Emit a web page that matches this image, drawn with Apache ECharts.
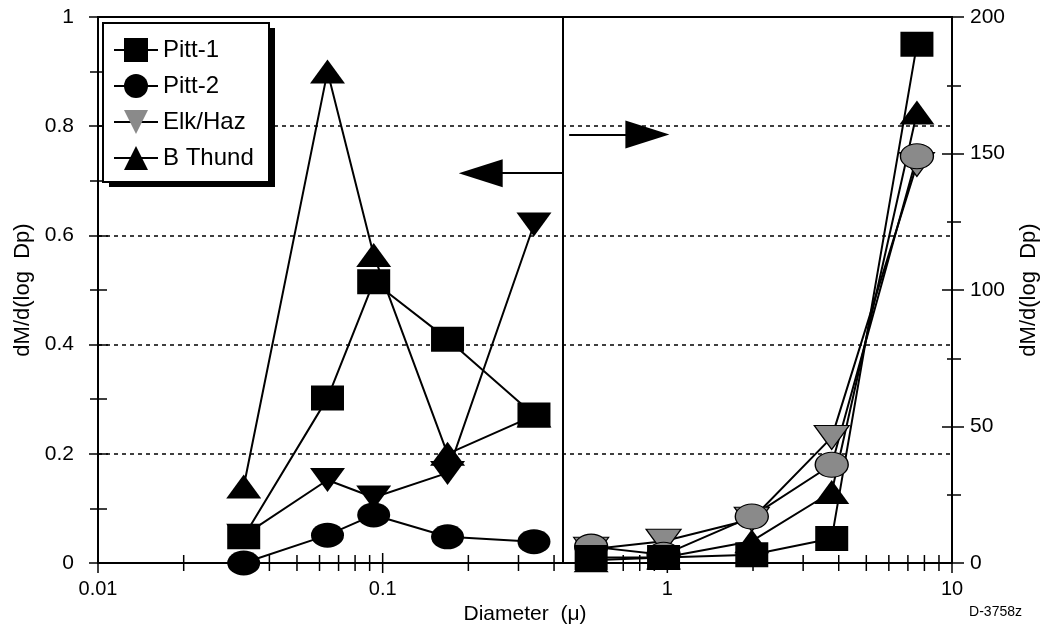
<!DOCTYPE html>
<html><head><meta charset="utf-8">
<script src="https://cdn.jsdelivr.net/npm/echarts@6/dist/echarts.min.js"></script>
<style>html,body{margin:0;padding:0;background:#fff}#c{width:1049px;height:632px}</style>
</head><body><div id="c"></div>
<script>
// ---- data ----
const seriesNames = ['Pitt-1', 'Pitt-2', 'Elk/Haz', 'B Thund'];
const fineDiam   = [0.0325, 0.064, 0.093, 0.169, 0.34];   // left panel (left axis)
const coarseDiam = [0.54, 0.97, 1.98, 3.78, 7.53];        // right panel (right axis)

const pitt1Fine = [0.048, 0.302, 0.515, 0.41, 0.271];
const pitt2Fine = [0.0, 0.051, 0.088, 0.048, 0.039];
const elkFine   = [0.05, 0.152, 0.12, 0.165, 0.62];
const bthFine   = [0.14, 0.90, 0.564, 0.20, 0.27];

const pitt1Coarse = [2, 2, 3, 9, 190];
const pitt2Coarse = [6, 3, 17, 36, 149];
const elkCoarse   = [5, 8, 16, 46, 146];
const bthCoarse   = [1, 2, 8, 26, 165];

const leftTicks  = [0, 0.2, 0.4, 0.6, 0.8, 1];
const rightTicks = [0, 50, 100, 150, 200];
const xMajorTicks = [0.01, 0.1, 1, 10];
const xMinorTicks = [0.02,0.03,0.04,0.05,0.06,0.07,0.08,0.09,
                     0.2,0.3,0.4,0.5,0.6,0.7,0.8,0.9,
                     2,3,4,5,6,7,8,9];
const separatorX = 0.43;
const leftArrowFrom = [0.43, 0.714], leftArrowTo = [0.221, 0.714];
const rightArrowFrom = [0.452, 157], rightArrowTo = [0.851, 157];

// ---- chart ----
const FONT = '"Liberation Sans", Arial, Helvetica, sans-serif';
const BLACK = '#000', GRAY = '#8a8a8a';
const chart = echarts.init(document.getElementById('c'), null, {renderer: 'canvas'});

const zip = (xs, ys) => xs.map((x, i) => [x, ys[i]]);
const SYM = {
  'Pitt-1': {symbol: 'rect', size: [33, 25], rot: 0},
  'Pitt-2': {symbol: 'circle', size: [33, 25], rot: 0},
  'Elk/Haz': {symbol: 'triangle', size: [35, 24], rot: 180},
  'B Thund': {symbol: 'triangle', size: [35, 24], rot: 0}
};
function lineSeries(name, xs, ys, yIdx, fill, extra) {
  const s = SYM[name];
  return Object.assign({
    name, type: 'line', xAxisIndex: 0, yAxisIndex: yIdx,
    data: zip(xs, ys),
    symbol: s.symbol, symbolSize: s.size, symbolRotate: s.rot,
    showAllSymbol: true, silent: true,
    lineStyle: {color: BLACK, width: 2},
    itemStyle: {color: fill, borderColor: BLACK, borderWidth: fill === BLACK ? 0 : 1.2, opacity: 1},
    emphasis: {disabled: true}
  }, extra || {});
}
function tickSeries(values, half) {
  return {
    type: 'custom', xAxisIndex: 0, yAxisIndex: 0, silent: true, clip: false, z: 5,
    data: values.map(v => [v, 0]),
    renderItem: (params, api) => {
      const p = api.coord([api.value(0), api.value(1)]);
      return {type: 'line', shape: {x1: p[0], y1: p[1] - half, x2: p[0], y2: p[1] + half},
              style: {stroke: BLACK, lineWidth: 1.5}};
    }
  };
}
const markLineBase = {
  silent: true, symbol: ['none', 'none'], label: {show: false},
  emphasis: {disabled: true}, animation: false,
  lineStyle: {color: BLACK, width: 2, type: 'solid'}
};
const arrowEnd = {symbol: 'triangle', symbolSize: [28, 44]};

const yCommon = {
  type: 'value',
  axisLine: {show: true, lineStyle: {color: BLACK, width: 2}},
  axisTick: {show: true, length: 9, lineStyle: {color: BLACK, width: 1.5}},
  minorTick: {show: true, splitNumber: 2, length: 8, lineStyle: {color: BLACK, width: 1.5}},
  axisLabel: {color: BLACK, fontSize: 21, fontFamily: FONT},
  splitLine: {show: false},
  nameTextStyle: {color: BLACK, fontSize: 22, fontFamily: FONT},
  nameLocation: 'middle', nameRotate: 90
};

const option = {
  animation: false,
  backgroundColor: '#fff',
  textStyle: {fontFamily: FONT, color: BLACK},
  grid: {left: 98, right: 97, top: 17, bottom: 69, show: true, borderColor: BLACK, borderWidth: 2, backgroundColor: 'transparent'},
  legend: {
    left: 103, top: 23, orient: 'vertical', z: 10,
    data: [
      {name: 'Pitt-1'}, {name: 'Pitt-2'},
      {name: 'Elk/Haz', itemStyle: {color: GRAY, borderColor: BLACK, borderWidth: 0}},
      {name: 'B Thund'}
    ],
    itemWidth: 44, itemHeight: 30, itemGap: 12,
    padding: [15, 10, 12, 10],
    backgroundColor: 'transparent', borderWidth: 0,
    textStyle: {color: BLACK, fontSize: 24, fontFamily: FONT},
    selectedMode: false
  },
  xAxis: [{
    type: 'log', logBase: 10, min: 0.01, max: 10,
    axisLine: {show: true, lineStyle: {color: BLACK, width: 2}},
    axisTick: {show: false},
    minorTick: {show: false},
    splitLine: {show: false},
    axisLabel: {color: BLACK, fontSize: 20, fontFamily: FONT, margin: 16,
                formatter: v => String(v)},
    name: 'Diameter  (\u03bc)', nameLocation: 'middle', nameGap: 39,
    nameTextStyle: {color: BLACK, fontSize: 21, fontFamily: FONT}
  }],
  yAxis: [
    Object.assign({}, yCommon, {
      position: 'left', min: leftTicks[0], max: leftTicks[leftTicks.length - 1], interval: leftTicks[1] - leftTicks[0],
      axisLabel: Object.assign({}, yCommon.axisLabel, {margin: 24}),
      splitLine: {show: true, lineStyle: {color: BLACK, width: 1.5, type: [4, 4]}},
      name: 'dM/d(log  Dp)', nameGap: 63
    }),
    Object.assign({}, yCommon, {
      position: 'right', min: rightTicks[0], max: rightTicks[rightTicks.length - 1], interval: rightTicks[1] - rightTicks[0],
      axisTick: Object.assign({}, yCommon.axisTick, {length: 12}),
      minorTick: Object.assign({}, yCommon.minorTick, {length: 9}),
      axisLabel: Object.assign({}, yCommon.axisLabel, {margin: 18}),
      name: 'dM/d(log  Dp)', nameGap: 66
    }),
    // inner halves of the crossing ticks
    Object.assign({}, yCommon, {
      position: 'left', min: leftTicks[0], max: leftTicks[leftTicks.length - 1], interval: leftTicks[1] - leftTicks[0],
      axisLine: {show: false}, axisLabel: {show: false}, name: '',
      axisTick: Object.assign({}, yCommon.axisTick, {inside: true, length: 10}),
      minorTick: Object.assign({}, yCommon.minorTick, {length: 9})
    }),
    Object.assign({}, yCommon, {
      position: 'right', min: rightTicks[0], max: rightTicks[rightTicks.length - 1], interval: rightTicks[1] - rightTicks[0],
      axisLine: {show: false}, axisLabel: {show: false}, name: '',
      axisTick: Object.assign({}, yCommon.axisTick, {inside: true, length: 10}),
      minorTick: Object.assign({}, yCommon.minorTick, {length: 5})
    })
  ],
  series: [
    // left panel (left axis)
    lineSeries('B Thund', fineDiam, bthFine, 0, BLACK, {
      markLine: Object.assign({}, markLineBase, {
        data: [
          {xAxis: separatorX},
          [{coord: leftArrowFrom}, Object.assign({coord: leftArrowTo}, arrowEnd)]
        ]
      })
    }),
    lineSeries('Elk/Haz', fineDiam, elkFine, 0, BLACK),
    lineSeries('Pitt-2', fineDiam, pitt2Fine, 0, BLACK),
    lineSeries('Pitt-1', fineDiam, pitt1Fine, 0, BLACK),
    // right panel (right axis)
    lineSeries('B Thund', coarseDiam, bthCoarse, 1, BLACK, {
      markLine: Object.assign({}, markLineBase, {
        data: [[{coord: rightArrowFrom}, Object.assign({coord: rightArrowTo}, arrowEnd)]]
      })
    }),
    lineSeries('Elk/Haz', coarseDiam, elkCoarse, 1, GRAY),
    lineSeries('Pitt-2', coarseDiam, pitt2Coarse, 1, GRAY),
    lineSeries('Pitt-1', coarseDiam, pitt1Coarse, 1, BLACK),
    // x-axis ticks crossing the axis line
    tickSeries(xMajorTicks, 10),
    tickSeries(xMinorTicks, 8)
  ],
  graphic: [
    // legend frame with its drop shadow
    {type: 'rect', z: 8, silent: true, shape: {x: 109, y: 28, width: 166, height: 159}, style: {fill: BLACK}},
    {type: 'rect', z: 9, silent: true, shape: {x: 103, y: 23, width: 166, height: 159}, style: {fill: '#fff', stroke: BLACK, lineWidth: 2}},
    {type: 'text', right: 27, top: 605, style: {text: 'D-3758z', font: '14px ' + FONT, fill: BLACK}}
  ]
};
chart.setOption(option);
</script>
</body></html>
